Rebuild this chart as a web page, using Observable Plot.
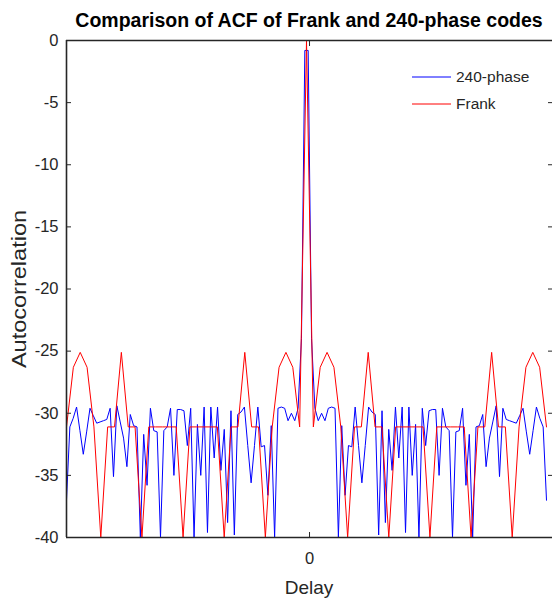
<!DOCTYPE html>
<html><head><meta charset="utf-8">
<script src="https://cdn.jsdelivr.net/npm/d3@7"></script>
<script src="https://cdn.jsdelivr.net/npm/@observablehq/plot@0.6"></script>
<style>
body{margin:0;background:#fff}
#wrap{position:relative;width:552px;height:599px;font-family:"Liberation Sans",Arial,sans-serif;color:#262626;overflow:hidden}
#title{position:absolute;left:66px;width:486px;top:9px;text-align:center;font-weight:bold;font-size:19.5px;color:#000;white-space:nowrap}
#ylab{position:absolute;left:19px;top:289px;transform:translate(-50%,-50%) rotate(-90deg) scale(1.12,1);font-size:21px;white-space:nowrap}
#xlab{position:absolute;left:309px;top:588px;transform:translate(-50%,-50%);font-size:19px}
#legend{position:absolute;left:412px;top:63px;font-size:15.5px}
.li{display:flex;align-items:center;height:27px}
.li svg{margin-right:5px}
</style></head>
<body><div id="wrap">
<div id="title">Comparison of ACF of Frank and 240-phase codes</div>
<div id="ylab">Autocorrelation</div>
<div id="xlab">Delay</div>
<div id="legend"></div>
</div>
<script>
const seriesNames = ["240-phase", "Frank"];
const seriesColors = ["#0000ff", "#ff0000"];
const yTicks = [0, -5, -10, -15, -20, -25, -30, -35, -40];
const xTickLabels = ["0"];
const xTicks = [0.44];
const xDomain = [-35, 35.875];
const yDomain = [-40, 0];

// Frank code ACF (dB), delays -35..35
const frankACF = [
 -31.1,-26.3,-25.1,-26.3,-31.1,-40,
 -31.1,-31.1,-25.1,-31.1,-31.1,-40,
 -31.1,-31.1,-31.1,-31.1,-31.1,-40,
 -31.1,-31.1,-31.1,-31.1,-31.1,-40,
 -31.1,-31.1,-25.1,-31.1,-31.1,-40,
 -31.1,-26.3,-25.1,-26.3,-31.1,
 0,
 -31.1,-26.3,-25.1,-26.3,-31.1,
 -40,-31.1,-31.1,-25.1,-31.1,-31.1,
 -40,-31.1,-31.1,-31.1,-31.1,-31.1,
 -40,-31.1,-31.1,-31.1,-31.1,-31.1,
 -40,-31.1,-31.1,-25.1,-31.1,-31.1,
 -40,-31.1,-26.3,-25.1,-26.3,-31.1
];

// 240-phase code ACF (dB), 144 samples across the delay range
const phase240ACF = [
 -37.0,-31.1,-30.4,-29.5,-31.4,-33.3,-31.5,-29.6,-30.2,-30.8,
 -30.7,-30.6,-30.5,-29.6,-35.1,-29.4,-30.7,-32.0,-34.3,-30.1,
 -31.0,-31.1,-40,-31.7,-35.8,-29.6,-31.4,-31.5,-40,-31.4,
 -31.1,-29.6,-35.0,-29.7,-29.7,-29.8,-32.6,-29.6,-40,-30.9,
 -35.0,-29.5,-39.6,-29.5,-33.6,-29.5,-34.6,-31.3,-38.8,-29.8,
 -39.8,-30.1,-29.9,-29.5,-32.6,-35.6,-32.6,-29.5,-32.7,-32.6,
 -36.6,-31.0,-40,-29.6,-29.5,-29.6,-30.6,-30.0,-30.6,-29.6,
 -24,-0.8,
 -0.8,-24,
 -29.6,-30.6,-30.0,-30.6,-29.6,-29.5,-29.6,-40,-31.0,-36.6,
 -32.6,-32.7,-29.5,-32.6,-35.6,-32.6,-29.5,-29.9,-30.1,-39.8,
 -29.8,-38.8,-31.3,-34.6,-29.5,-33.6,-29.5,-39.6,-29.5,-35.0,
 -30.9,-40,-29.6,-32.6,-29.8,-29.7,-29.7,-35.0,-29.6,-31.1,
 -31.4,-40,-31.5,-31.4,-29.6,-35.8,-31.7,-40,-31.1,-31.0,
 -30.1,-34.3,-32.0,-30.7,-29.4,-35.1,-29.6,-30.5,-30.6,-30.7,
 -30.8,-30.2,-29.6,-31.5,-33.3,-31.4,-29.5,-30.4,-31.1,-37.0
];

const xMin = -35, xMax = 35;
const frank = frankACF.map((v, i) => ({x: xMin + i, y: v}));
const p240 = phase240ACF.map((v, i) => ({x: xMin + i * (xMax - xMin) / (phase240ACF.length - 1), y: v}));

const axisColor = "#262626";
const chart = Plot.plot({
  width: 552, height: 599,
  marginLeft: 66, marginRight: 0, marginTop: 40, marginBottom: 62,
  x: {domain: xDomain},
  y: {domain: yDomain},
  style: {fontFamily: "'Liberation Sans', Arial, sans-serif", fontSize: "15px", color: axisColor, background: "white", overflow: "visible"},
  marks: [
    Plot.line(p240, {x: "x", y: "y", stroke: seriesColors[0], strokeWidth: 1}),
    Plot.line(frank, {x: "x", y: "y", stroke: seriesColors[1], strokeWidth: 1}),
    Plot.ruleY(yDomain, {stroke: axisColor, strokeWidth: 1.6}),
    Plot.ruleX([xDomain[0]], {stroke: axisColor, strokeWidth: 1.6}),
    Plot.axisY(yTicks, {anchor: "left", tickSize: 0, tickPadding: 8, label: null, fontSize: 16.5, tickFormat: d => String(d)}),
    Plot.axisY(yTicks, {anchor: "left", tickSize: -5, tickFormat: () => "", label: null}),
    Plot.axisY(yTicks, {anchor: "right", tickSize: -5, tickFormat: () => "", label: null}),
    Plot.axisX(xTicks, {anchor: "bottom", tickSize: 0, tickPadding: 15, tickFormat: (d, i) => xTickLabels[i], label: null, fontSize: 16.5}),
    Plot.axisX(xTicks, {anchor: "bottom", tickSize: -5, tickFormat: () => "", label: null}),
    Plot.axisX(xTicks, {anchor: "top", tickSize: -5, tickFormat: () => "", label: null})
  ]
});
chart.style.position = "absolute";
chart.style.left = "0";
chart.style.top = "0";
document.getElementById("wrap").prepend(chart);

const leg = document.getElementById("legend");
seriesNames.forEach((n, i) => {
  const row = document.createElement("div");
  row.className = "li";
  row.innerHTML = `<svg width="39" height="4"><line x1="0" x2="39" y1="2" y2="2" stroke="${seriesColors[i]}" stroke-width="1"/></svg><span>${n}</span>`;
  leg.appendChild(row);
});
</script>
</body></html>
